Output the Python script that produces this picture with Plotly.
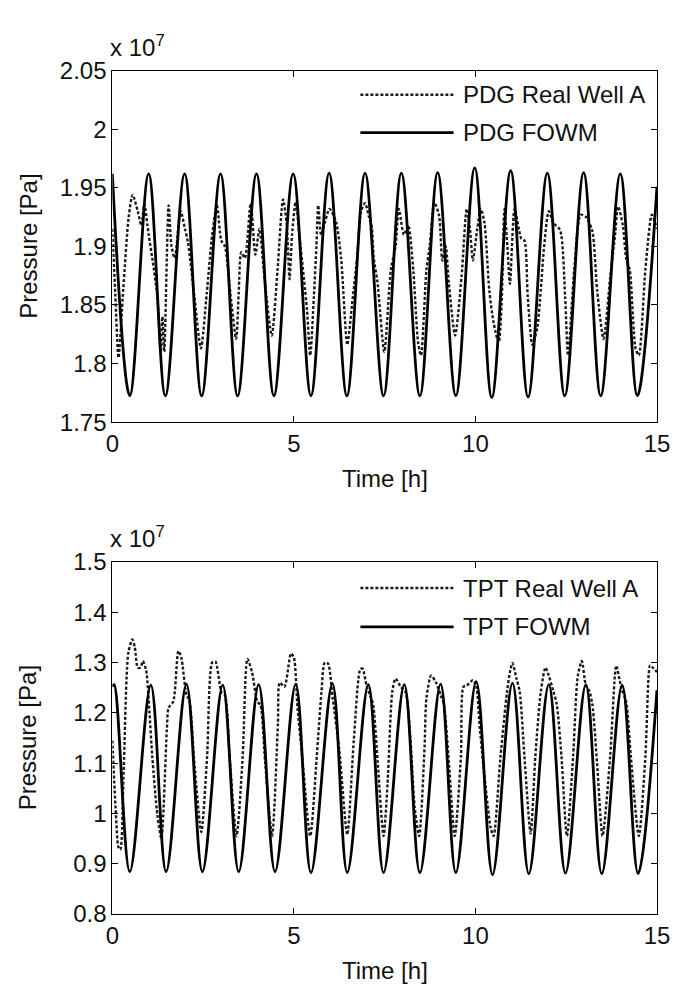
import plotly.graph_objects as go

W, H = 686, 996

# ---------------- data (pressure in units of 1e7 Pa, time in h) ----------------
pdg_fowm_t = [0.0, 0.48, 1.0, 1.46, 1.99, 2.46, 2.98, 3.45, 3.97, 4.45, 4.98, 5.47,
              5.97, 6.46, 6.96, 7.47, 7.96, 8.47, 8.96, 9.46, 9.98, 10.45, 10.97,
              11.45, 11.98, 12.46, 12.98, 13.45, 13.99, 14.46, 15.0]
pdg_fowm_p = [1.962, 1.7725, 1.962, 1.7725, 1.962, 1.7725, 1.962, 1.7725, 1.962, 1.7725,
              1.962, 1.7725, 1.9625, 1.7725, 1.9625, 1.7725, 1.9625, 1.7725, 1.963, 1.7725,
              1.967, 1.771, 1.9646, 1.7715, 1.9625, 1.7725, 1.963, 1.7725, 1.962, 1.7725, 1.951]

pdg_real_t = [0.0, 0.08, 0.17, 0.3, 0.45, 0.56, 0.7, 0.8, 0.88, 1.0, 1.1, 1.24, 1.33, 1.38,
              1.43, 1.55, 1.63, 1.72, 1.88, 2.0, 2.08, 2.25, 2.44, 2.6, 2.75, 2.88, 3.0,
              3.1, 3.25, 3.41, 3.48, 3.55, 3.65, 3.81, 3.94, 4.05, 4.2, 4.39, 4.55, 4.7,
              4.8, 4.88, 4.95, 5.05, 5.15, 5.36, 5.45, 5.55, 5.62, 5.67, 5.75, 5.85, 5.98,
              6.16, 6.3, 6.47, 6.6, 6.74, 6.85, 6.96, 7.07, 7.14, 7.2, 7.3, 7.49, 7.67,
              7.8, 7.89, 8.03, 8.15, 8.29, 8.42, 8.5, 8.65, 8.74, 8.87, 9.0, 9.09, 9.18,
              9.27, 9.44, 9.62, 9.76, 9.85, 9.93, 10.05, 10.15, 10.25, 10.38, 10.5, 10.64,
              10.72, 10.8, 10.88, 10.95, 11.08, 11.26, 11.35, 11.44, 11.57, 11.7, 11.8,
              11.88, 12.02, 12.15, 12.33, 12.47, 12.55, 12.72, 12.9, 13.05, 13.22, 13.35,
              13.53, 13.71, 13.84, 13.93, 14.06, 14.15, 14.25, 14.41, 14.5, 14.68, 14.86,
              15.0]
pdg_real_p = [1.915, 1.86, 1.805, 1.863, 1.925, 1.944, 1.93, 1.918, 1.936, 1.91, 1.89, 1.857,
              1.81, 1.84, 1.81, 1.935, 1.90, 1.89, 1.93, 1.915, 1.904, 1.86, 1.813, 1.86,
              1.91, 1.935, 1.905, 1.90, 1.86, 1.821, 1.86, 1.895, 1.89, 1.937, 1.893, 1.915,
              1.87, 1.824, 1.88, 1.94, 1.92, 1.872, 1.91, 1.938, 1.91, 1.846, 1.807, 1.857,
              1.90, 1.935, 1.91, 1.92, 1.932, 1.921, 1.89, 1.816, 1.85, 1.89, 1.93, 1.937,
              1.925, 1.918, 1.89, 1.87, 1.81, 1.88, 1.90, 1.932, 1.91, 1.918, 1.879, 1.818,
              1.807, 1.88, 1.90, 1.9375, 1.926, 1.888, 1.90, 1.868, 1.824, 1.875, 1.932,
              1.915, 1.888, 1.915, 1.932, 1.92, 1.863, 1.835, 1.818, 1.85, 1.932, 1.90,
              1.868, 1.932, 1.907, 1.905, 1.857, 1.816, 1.83, 1.863, 1.896, 1.930, 1.92,
              1.914, 1.857, 1.807, 1.88, 1.927, 1.925, 1.913, 1.863, 1.821, 1.873, 1.908,
              1.934, 1.918, 1.89, 1.88, 1.813, 1.807, 1.88, 1.927, 1.915]

tpt_fowm_t = [0.0, 0.05, 0.48, 1.06, 1.48, 2.04, 2.48, 3.04, 3.48, 4.03, 4.48, 5.05, 5.47,
              6.06, 6.47, 7.05, 7.47, 8.04, 8.47, 9.04, 9.46, 10.02, 10.47, 11.02, 11.47,
              12.02, 12.48, 13.04, 13.48, 14.04, 14.48, 15.0]
tpt_fowm_p = [1.252, 1.256, 0.884, 1.255, 0.884, 1.257, 0.884, 1.255, 0.884, 1.256, 0.884,
              1.257, 0.882, 1.258, 0.882, 1.256, 0.882, 1.256, 0.882, 1.257, 0.882, 1.262,
              0.878, 1.259, 0.880, 1.256, 0.881, 1.256, 0.880, 1.255, 0.880, 1.245]

tpt_real_t = [0.0, 0.09, 0.17, 0.22, 0.31, 0.44, 0.55, 0.62, 0.7, 0.78, 0.84, 0.93, 1.02, 1.1,
              1.24, 1.35, 1.5, 1.55, 1.68, 1.82, 1.9, 2.04, 2.12, 2.26, 2.45, 2.61, 2.75,
              2.84, 3.01, 3.1, 3.23, 3.42, 3.59, 3.72, 3.85, 3.99, 4.08, 4.21, 4.4, 4.56,
              4.61, 4.74, 4.92, 5.0, 5.1, 5.23, 5.45, 5.63, 5.76, 5.85, 5.94, 6.07, 6.25,
              6.47, 6.65, 6.83, 6.89, 7.0, 7.09, 7.18, 7.31, 7.47, 7.58, 7.71, 7.8, 7.94,
              8.07, 8.2, 8.33, 8.45, 8.6, 8.65, 8.78, 8.91, 9.04, 9.13, 9.27, 9.43, 9.6,
              9.67, 9.76, 9.93, 10.02, 10.11, 10.24, 10.42, 10.5, 10.69, 10.87, 10.95,
              11.02, 11.13, 11.22, 11.35, 11.52, 11.65, 11.8, 11.93, 12.02, 12.15, 12.24,
              12.37, 12.52, 12.69, 12.82, 12.93, 13.04, 13.13, 13.22, 13.35, 13.5, 13.71,
              13.84, 13.88, 14.02, 14.15, 14.28, 14.5, 14.68, 14.77, 14.81, 15.0]
tpt_real_p = [1.145, 1.01, 0.932, 0.928, 1.081, 1.319, 1.346, 1.33, 1.29, 1.29, 1.303, 1.285,
              1.203, 1.113, 0.997, 0.95, 1.165, 1.21, 1.223, 1.323, 1.31, 1.236, 1.225, 1.1,
              0.963, 1.113, 1.3, 1.302, 1.24, 1.235, 1.113, 0.955, 1.113, 1.307, 1.28, 1.223,
              1.215, 1.1, 0.955, 1.178, 1.26, 1.252, 1.318, 1.31, 1.21, 1.113, 0.955, 1.113,
              1.242, 1.30, 1.298, 1.229, 1.126, 0.958, 1.145, 1.287, 1.288, 1.255, 1.236,
              1.217, 1.1, 0.955, 1.06, 1.242, 1.268, 1.252, 1.242, 1.158, 1.01, 0.955, 1.133,
              1.229, 1.274, 1.261, 1.236, 1.217, 1.1, 0.955, 1.113, 1.252, 1.254, 1.265,
              1.255, 1.178, 1.081, 0.971, 0.955, 1.113, 1.242, 1.281, 1.299, 1.268, 1.242,
              1.113, 0.96, 1.113, 1.242, 1.29, 1.274, 1.242, 1.217, 1.113, 0.955, 1.113,
              1.274, 1.303, 1.255, 1.245, 1.217, 1.1, 0.955, 1.113, 1.274, 1.294, 1.249,
              1.223, 1.113, 0.955, 1.113, 1.274, 1.294, 1.281]

x_ticks = [0, 5, 10, 15]
top_y_ticks = [1.75, 1.8, 1.85, 1.9, 1.95, 2.0, 2.05]
top_y_text = ["1.75", "1.8", "1.85", "1.9", "1.95", "2", "2.05"]
bot_y_ticks = [0.8, 0.9, 1.0, 1.1, 1.2, 1.3, 1.4, 1.5]
bot_y_text = ["0.8", "0.9", "1", "1.1", "1.2", "1.3", "1.4", "1.5"]

legend_top = ["PDG Real Well A", "PDG FOWM"]
legend_bot = ["TPT Real Well A", "TPT FOWM"]

# ---------------- styling ----------------
FONT = "Liberation Sans, Arial, Helvetica, sans-serif"
FS = 24
DOT = dict(color="#1a1a1a", width=2.4, dash="3px,2px", shape="spline", smoothing=0.7)
SOLID = dict(color="#000000", width=2.8, shape="spline", smoothing=1.0)

def px(x):
    return x / W

def py(y):
    return 1 - y / H

X0, X1 = 108.5, 669.5
TOP_Y0, TOP_Y1 = 58.3, 419.5
BOT_Y0, BOT_Y1 = 563.3, 925.0

fig = go.Figure()
fig.add_trace(go.Scatter(x=pdg_real_t, y=pdg_real_p, mode="lines", line=DOT,
                         name=legend_top[0], xaxis="x", yaxis="y", showlegend=False))
fig.add_trace(go.Scatter(x=pdg_fowm_t, y=pdg_fowm_p, mode="lines", line=SOLID,
                         name=legend_top[1], xaxis="x", yaxis="y", showlegend=False))
fig.add_trace(go.Scatter(x=tpt_real_t, y=tpt_real_p, mode="lines", line=DOT,
                         name=legend_bot[0], xaxis="x2", yaxis="y2", showlegend=False))
fig.add_trace(go.Scatter(x=tpt_fowm_t, y=tpt_fowm_p, mode="lines", line=SOLID,
                         name=legend_bot[1], xaxis="x2", yaxis="y2", showlegend=False))

axis_common = dict(showgrid=False, zeroline=False, showline=True, linecolor="black",
                   linewidth=1, mirror="ticks", ticks="inside", ticklen=6, tickwidth=1,
                   tickcolor="black", tickfont=dict(family=FONT, size=FS, color="#111"))

fig.update_layout(
    width=W, height=H, autosize=False,
    margin=dict(l=0, r=0, t=0, b=0),
    paper_bgcolor="white", plot_bgcolor="white",
    font=dict(family=FONT, size=FS, color="#111"),
    xaxis=dict(domain=[px(X0), px(X1)], anchor="y", range=[0, 15],
               tickvals=x_ticks, **axis_common),
    yaxis=dict(domain=[py(TOP_Y1), py(TOP_Y0)], anchor="x", range=[1.75, 2.05],
               tickvals=top_y_ticks, ticktext=top_y_text, **axis_common),
    xaxis2=dict(domain=[px(X0), px(X1)], anchor="y2", range=[0, 15],
                tickvals=x_ticks, **axis_common),
    yaxis2=dict(domain=[py(BOT_Y1), py(BOT_Y0)], anchor="x2", range=[0.8, 1.5],
                tickvals=bot_y_ticks, ticktext=bot_y_text, **axis_common),
)

ann = []
shapes = []
for (ytop, ybot, labels, leg_y) in [
        (TOP_Y0, TOP_Y1, legend_top, (83, 122)),
        (BOT_Y0, BOT_Y1, legend_bot, (590, 630))]:
    # y axis title
    ann.append(dict(x=px(22), y=py((ytop + ybot) / 2), xref="paper", yref="paper",
                    text="Pressure [Pa]", textangle=-90, showarrow=False,
                    font=dict(family=FONT, size=FS, color="#111"),
                    xanchor="center", yanchor="middle"))
    # x axis title
    ann.append(dict(x=px((X0 + X1) / 2), y=py(ybot + 58), xref="paper", yref="paper",
                    text="Time [h]", showarrow=False,
                    font=dict(family=FONT, size=FS, color="#111"),
                    xanchor="center", yanchor="middle"))
    # exponent
    ann.append(dict(x=px(X0 - 4), y=py(ytop - 8), xref="paper", yref="paper",
                    text="x 10<sup>7</sup>", showarrow=False,
                    font=dict(family=FONT, size=FS, color="#111"),
                    xanchor="left", yanchor="bottom"))
    # legend
    for i, lab in enumerate(labels):
        yy = leg_y[i]
        style = DOT if i == 0 else SOLID
        shapes.append(dict(type="line", xref="paper", yref="paper",
                           x0=px(364), x1=px(460), y0=py(yy), y1=py(yy),
                           line=dict(color=style["color"], width=style["width"],
                                     dash=style.get("dash", "solid"))))
        ann.append(dict(x=px(468), y=py(yy), xref="paper", yref="paper",
                        text=lab, showarrow=False,
                        font=dict(family=FONT, size=FS, color="#111"),
                        xanchor="left", yanchor="middle"))

fig.update_layout(annotations=ann, shapes=shapes)
fig.write_html(
    "out.html",
    post_script=("document.documentElement.style.margin='0';"
                 "document.body.style.margin='0';"
                 "document.body.style.overflow='hidden';"
                 "document.documentElement.style.overflow='hidden';"),
)
